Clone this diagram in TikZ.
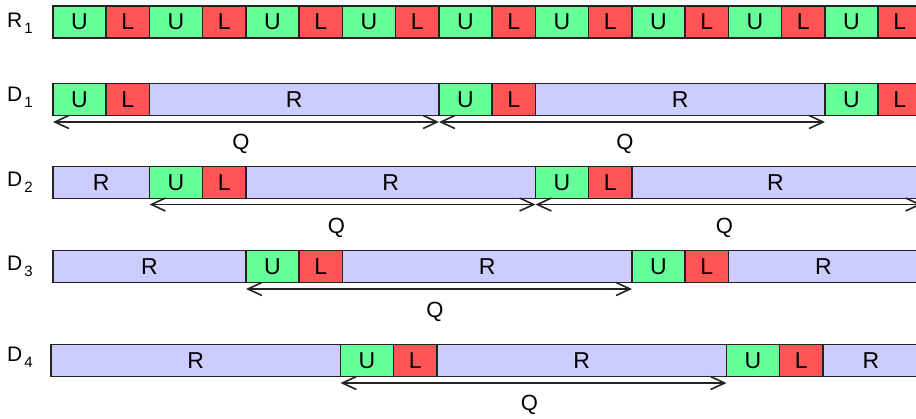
\documentclass[tikz,border=0pt]{standalone}
\usepackage{fontspec}
\setmainfont{Liberation Sans}
\usetikzlibrary{arrows.meta,calc}
\definecolor{ucol}{RGB}{102,255,153}
\definecolor{lcol}{RGB}{255,85,85}
\definecolor{rcol}{RGB}{204,204,255}
\definecolor{edgecol}{RGB}{35,35,35}
\begin{document}
\begin{tikzpicture}[x=1pt,y=-1pt,
  cell/.style={draw=edgecol, line width=1.5pt, minimum height=32pt, inner sep=0pt, outer sep=0pt, anchor=west, font=\fontsize{23}{23}\selectfont},
  ucell/.style={cell, fill=ucol, minimum width=53pt},
  lcell/.style={cell, fill=lcol, minimum width=43.5pt},
  rcell/.style={cell, fill=rcol, minimum width=#1},
  rowlab/.style={anchor=base west, inner sep=0pt, font=\fontsize{21}{21}\selectfont},
  span/.style={draw=edgecol, line width=1.6pt, {Straight Barb[length=14pt,width=13pt]}-{Straight Barb[length=14pt,width=13pt]}},
  qlab/.style={font=\fontsize{22}{22}\selectfont, inner sep=0pt}
]
\newcommand{\rsub}[2]{#1\kern2pt\raisebox{-6pt}{\fontsize{15}{15}\selectfont #2}}
\useasboundingbox (0,0) rectangle (916,418);
\clip (0,0) rectangle (916,418);

% row labels
\node[rowlab] (labR1) at (7,27) {\rsub{R}{1}};
\node[rowlab] (labD1) at (7,101) {\rsub{D}{1}};
\node[rowlab] (labD2) at (7,186) {\rsub{D}{2}};
\node[rowlab] (labD3) at (7,270) {\rsub{D}{3}};
\node[rowlab] (labD4) at (7,361) {\rsub{D}{4}};

% R1
\foreach \k in {0,...,8} {
  \pgfmathsetmacro{\xu}{53+96.5*\k}
  \pgfmathsetmacro{\xl}{106+96.5*\k}
  \node[ucell] (r1u\k) at (\xu,22) {U};
  \node[lcell] (r1l\k) at (\xl,22) {L};
}

% D1
\node[ucell] (d1ua) at (53,99.5) {U};
\node[lcell] (d1la) at (106,99.5) {L};
\node[rcell=289.5pt] (d1ra) at (149.5,99.5) {R};
\node[ucell] (d1ub) at (439,99.5) {U};
\node[lcell] (d1lb) at (492,99.5) {L};
\node[rcell=289.5pt] (d1rb) at (535.5,99.5) {R};
\node[ucell] (d1uc) at (825,99.5) {U};
\node[lcell] (d1lc) at (878,99.5) {L};

% D2
\node[rcell=96.5pt] (d2r0) at (53,182.5) {R};
\node[ucell] (d2ua) at (149.5,182.5) {U};
\node[lcell] (d2la) at (202.5,182.5) {L};
\node[rcell=289.5pt] (d2ra) at (246,182.5) {R};
\node[ucell] (d2ub) at (535.5,182.5) {U};
\node[lcell] (d2lb) at (588.5,182.5) {L};
\node[rcell=287pt] (d2rb) at (632,182.5) {R};

% D3
\node[rcell=193pt] (d3r0) at (53,266.5) {R};
\node[ucell] (d3ua) at (246,266.5) {U};
\node[lcell] (d3la) at (299,266.5) {L};
\node[rcell=289.5pt] (d3ra) at (342.5,266.5) {R};
\node[ucell] (d3ub) at (632,266.5) {U};
\node[lcell] (d3lb) at (685,266.5) {L};
\node[rcell=190pt] (d3rb) at (728.5,266.5) {R};

% D4
\node[rcell=289.5pt] (d4r0) at (51,360.5) {R};
\node[ucell] (d4ua) at (340.5,360.5) {U};
\node[lcell] (d4la) at (393.5,360.5) {L};
\node[rcell=289.5pt] (d4ra) at (437,360.5) {R};
\node[ucell] (d4ub) at (726.5,360.5) {U};
\node[lcell] (d4lb) at (779.5,360.5) {L};
\node[rcell=96pt] (d4rb) at (823,360.5) {R};

% spans
\coordinate (d2end) at (921.5,204.5);
\draw[span] ([yshift=-6.5pt]d1ua.south west) -- node[qlab, yshift=-22pt, xshift=-5pt] (q1a) {Q} ([yshift=-6.5pt]d1ub.south west);
\draw[span] ([yshift=-6.5pt]d1ub.south west) -- node[qlab, yshift=-22pt, xshift=-7pt] (q1b) {Q} ([yshift=-6.5pt]d1uc.south west);
\draw[span] ([yshift=-6pt]d2ua.south west) -- node[qlab, yshift=-23pt, xshift=-6pt] (q2a) {Q} ([yshift=-6pt]d2ub.south west);
\draw[span] ([yshift=-6pt]d2ub.south west) -- node[qlab, yshift=-23pt, xshift=-4pt] (q2b) {Q} (d2end);
\draw[span] ([yshift=-6.5pt]d3ua.south west) -- node[qlab, yshift=-23pt, xshift=-4pt] (q3a) {Q} ([yshift=-6.5pt]d3ub.south west);
\draw[span] ([yshift=-6.5pt]d4ua.south west) -- node[qlab, yshift=-22pt, xshift=-4pt] (q4a) {Q} ([yshift=-6.5pt]d4ub.south west);
\end{tikzpicture}
\end{document}
